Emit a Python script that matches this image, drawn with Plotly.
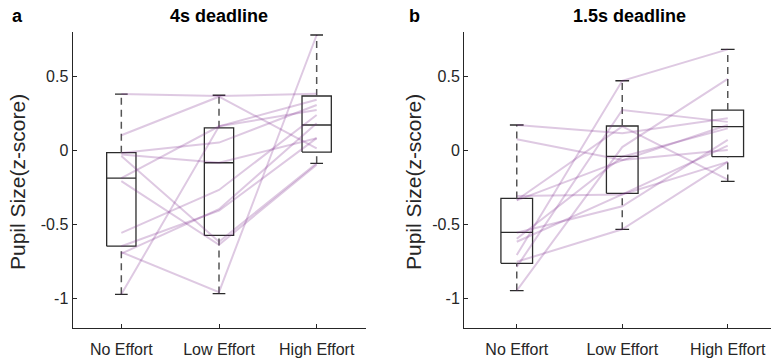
import plotly.graph_objects as go

# Conditions on the x axis
conditions = ["No Effort", "Low Effort", "High Effort"]
cond_pos = [1, 2, 3]

# Per-participant pupil size (z-score), 4 s deadline
no_effort_4s = [0.378, 0.10, -0.02, -0.03, -0.04, -0.19, -0.21, -0.56, -0.65, -0.69, -0.975, -0.70]
low_effort_4s = [0.365, 0.36, 0.05, -0.086, -0.62, 0.16, -0.64, -0.27, -0.41, -0.96, 0.16, -0.40]
high_effort_4s = [0.38, 0.011, 0.304, 0.079, -0.09, 0.27, -0.10, 0.236, 0.08, 0.777, 0.34, 0.18]

# Per-participant pupil size (z-score), 1.5 s deadline
no_effort_15s = [0.169, 0.072, -0.338, -0.31, -0.559, -0.60, -0.71, -0.755, -0.79, -0.95, -0.62, -0.34]
low_effort_15s = [0.113, -0.068, 0.16, -0.30, -0.38, -0.045, 0.468, -0.536, 0.27, 0.02, -0.30, -0.07]
high_effort_15s = [0.214, 0.0, -0.20, -0.08, 0.068, 0.146, 0.68, -0.08, 0.19, 0.48, 0.03, 0.169]

# Box summaries (lower whisker, Q1, median, Q3, upper whisker) per condition
box_lower_4s = [-0.975, -0.97, -0.09]
box_q1_4s = [-0.65, -0.577, -0.014]
box_median_4s = [-0.19, -0.086, 0.169]
box_q3_4s = [-0.018, 0.15, 0.365]
box_upper_4s = [0.378, 0.37, 0.777]

box_lower_15s = [-0.95, -0.536, -0.212]
box_q1_15s = [-0.766, -0.293, -0.045]
box_median_15s = [-0.556, -0.043, 0.158]
box_q3_15s = [-0.327, 0.162, 0.27]
box_upper_15s = [0.169, 0.468, 0.68]

y_ticks = [-1, -0.5, 0, 0.5]
y_tick_text = ["-1", "-0.5", "0", "0.5"]

FONT = "Liberation Sans, Arial, Helvetica, sans-serif"
INK = "#262626"
BOX_COLOR = "#2b2b2b"
WHISKER_COLOR = "#555555"
SUBJECT_COLOR = "rgba(126, 47, 142, 0.26)"
HALF_W = 0.15
CAP_W = 0.065

fig = go.Figure()


def add_panel(xa, ya, no_eff, low_eff, high_eff, lo, q1, med, q3, hi):
    # box outlines and medians
    bx, by = [], []
    for x, a, m, b in zip(cond_pos, q1, med, q3):
        bx += [x - HALF_W, x + HALF_W, x + HALF_W, x - HALF_W, x - HALF_W, None,
               x - HALF_W, x + HALF_W, None]
        by += [a, a, b, b, a, None, m, m, None]
    fig.add_trace(go.Scatter(x=bx, y=by, mode="lines", xaxis=xa, yaxis=ya,
                             line=dict(color=BOX_COLOR, width=1.3),
                             hoverinfo="skip", showlegend=False))
    # dashed whiskers
    wx, wy = [], []
    for x, l, a, b, h in zip(cond_pos, lo, q1, q3, hi):
        wx += [x, x, None, x, x, None]
        wy += [b, h, None, l, a, None]
    fig.add_trace(go.Scatter(x=wx, y=wy, mode="lines", xaxis=xa, yaxis=ya,
                             line=dict(color=WHISKER_COLOR, width=1.5, dash="7px,5px"),
                             hoverinfo="skip", showlegend=False))
    # whisker caps
    cx, cy = [], []
    for x, l, h in zip(cond_pos, lo, hi):
        cx += [x - CAP_W, x + CAP_W, None, x - CAP_W, x + CAP_W, None]
        cy += [h, h, None, l, l, None]
    fig.add_trace(go.Scatter(x=cx, y=cy, mode="lines", xaxis=xa, yaxis=ya,
                             line=dict(color=BOX_COLOR, width=1.3),
                             hoverinfo="skip", showlegend=False))
    # one line per participant across the three conditions
    for a, b, c in zip(no_eff, low_eff, high_eff):
        fig.add_trace(go.Scatter(x=cond_pos, y=[a, b, c], mode="lines",
                                 xaxis=xa, yaxis=ya,
                                 line=dict(color=SUBJECT_COLOR, width=2),
                                 hoverinfo="skip", showlegend=False))


add_panel("x", "y", no_effort_4s, low_effort_4s, high_effort_4s,
          box_lower_4s, box_q1_4s, box_median_4s, box_q3_4s, box_upper_4s)
add_panel("x2", "y2", no_effort_15s, low_effort_15s, high_effort_15s,
          box_lower_15s, box_q1_15s, box_median_15s, box_q3_15s, box_upper_15s)

W, H = 771, 358
y_dom = [1 - 327.6 / H, 1 - 31.6 / H]

xaxis_common = dict(
    tickmode="array", tickvals=cond_pos, ticktext=conditions,
    showline=True, linecolor=INK, linewidth=1, mirror=False,
    ticks="inside", ticklen=4, tickcolor=INK,
    showgrid=False, zeroline=False,
    tickfont=dict(family=FONT, size=16, color=INK),
    ticklabelstandoff=7,
)
yaxis_common = dict(
    range=[-1.2, 0.8], tickmode="array", tickvals=y_ticks, ticktext=y_tick_text,
    showline=True, linecolor=INK, linewidth=1, mirror=False,
    ticks="inside", ticklen=4, tickcolor=INK,
    showgrid=False, zeroline=False,
    tickfont=dict(family=FONT, size=16, color=INK),
    domain=y_dom,
)

fig.update_layout(
    width=W, height=H,
    margin=dict(l=0, r=0, t=0, b=0),
    paper_bgcolor="white", plot_bgcolor="white",
    xaxis=dict(xaxis_common, domain=[72.5 / W, 365.5 / W], range=[0.5, 3.5], anchor="y"),
    yaxis=dict(yaxis_common, anchor="x"),
    xaxis2=dict(xaxis_common, domain=[464 / W, 1.0], range=[0.5, 3.41], anchor="y2"),
    yaxis2=dict(yaxis_common, anchor="x2"),
    showlegend=False,
)

# panel letters and titles
labels = [
    dict(text="<b>a</b>", x=10 / W, xanchor="left"),
    dict(text="<b>4s deadline</b>", x=219 / W, xanchor="center"),
    dict(text="<b>b</b>", x=407 / W, xanchor="left"),
    dict(text="<b>1.5s deadline</b>", x=629 / W, xanchor="center"),
]
for a in labels:
    fig.add_annotation(xref="paper", yref="paper", y=1 - 16 / H, showarrow=False,
                       yanchor="middle",
                       font=dict(family=FONT, size=18, color="black"), **a)

for xp in (17, 413):
    fig.add_annotation(text="Pupil Size(z-score)", xref="paper", yref="paper",
                       x=xp / W, y=1 - 182 / H, textangle=-90, showarrow=False,
                       xanchor="center", yanchor="middle",
                       font=dict(family=FONT, size=21, color=INK))

fig.write_html("out.html")
